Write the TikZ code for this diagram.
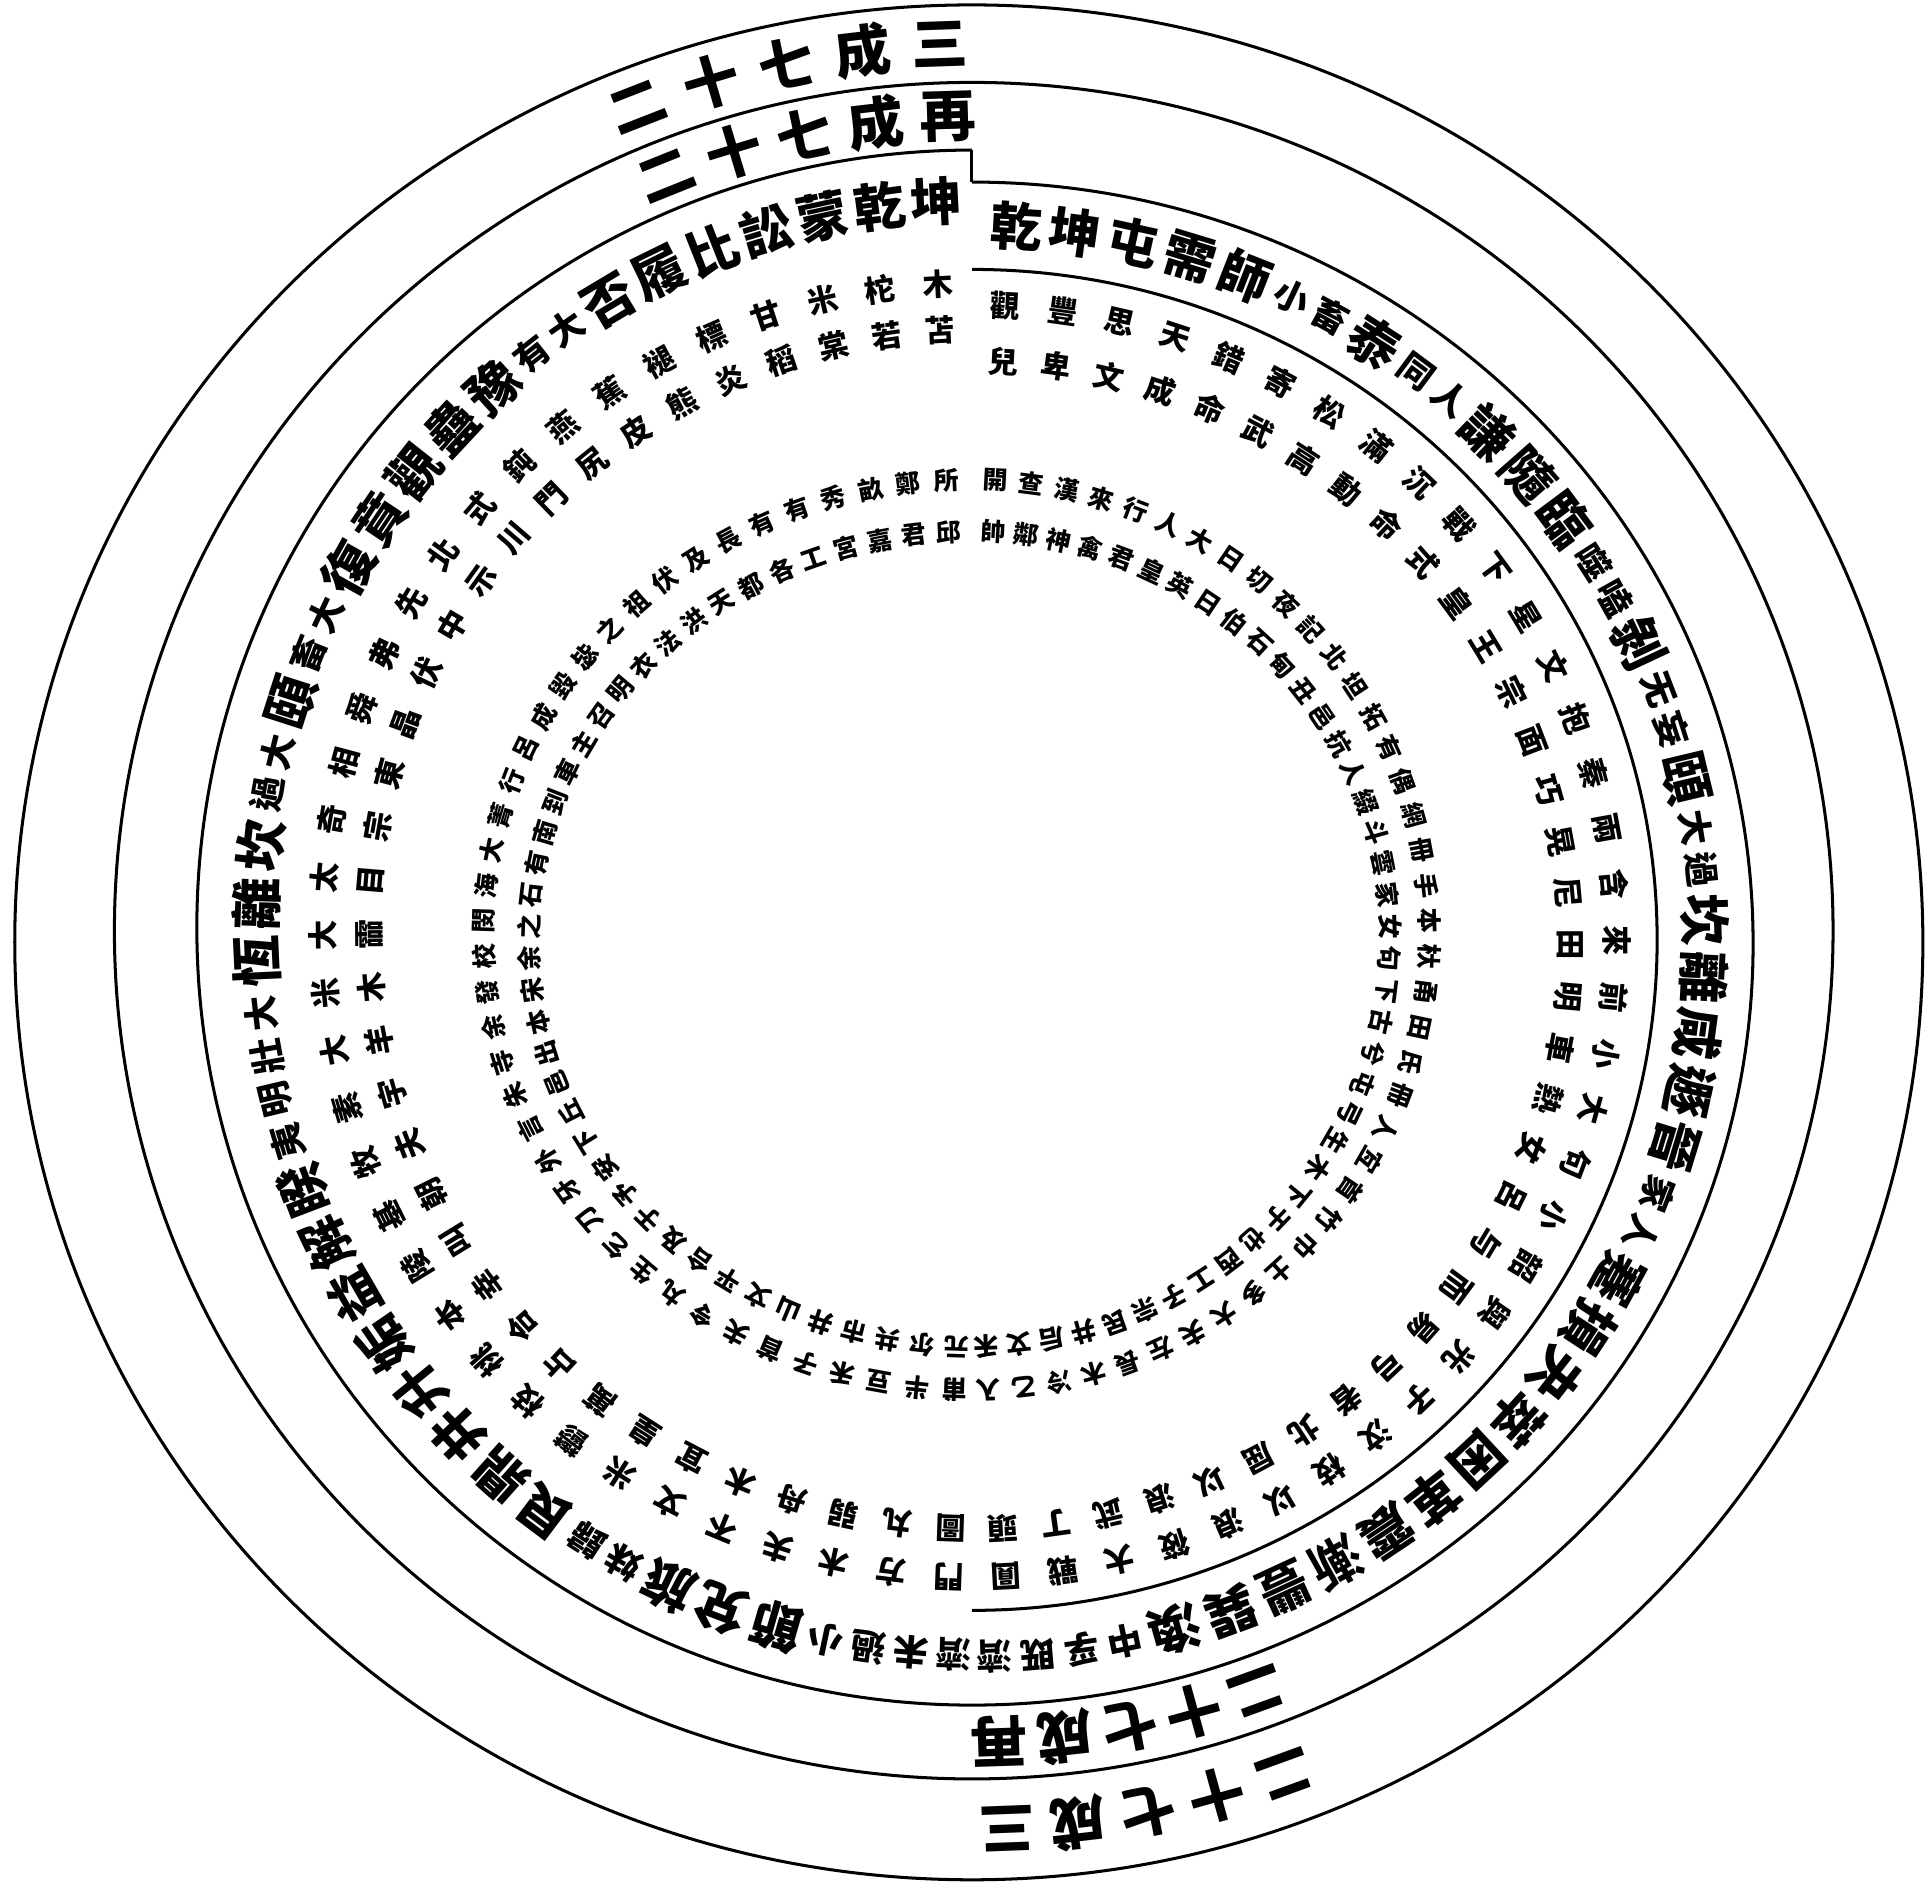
\documentclass[tikz,border=0pt]{standalone}
\usepackage{fontspec}
\newfontfamily\cjk{Noto Sans CJK TC}
\newcommand\rkput[6]{%
  \node[inner sep=0pt, rotate=#3, font=\cjk\bfseries\fontsize{#4pt}{#4pt}\selectfont] (#6) at (#1,#2) {#5};}
\ExplSyntaxOn
\fp_new:N \l_rk_t_fp
\fp_new:N \l_rk_tot_fp
\fp_new:N \l_rk_step_fp
\fp_new:N \l_rk_pw_fp
\fp_new:N \l_rk_w_fp
\int_new:N \g_rk_node_int
\bool_new:N \l_rk_first_bool
\cs_new_protected:Npn \rk_put:nnnnnnn #1#2#3#4#5#6#7
  {
    \int_gincr:N \g_rk_node_int
    \use:e
      {
        \exp_not:N \rkput
          { \fp_eval:n { round(#1 + #3 * cosd(#5), 4) } }
          { \fp_eval:n { round(#2 + #4 * sind(#5), 4) } }
          { \fp_eval:n { round(atand(#3 * sind(#5), #4 * cosd(#5)) - 90, 3) } }
          { \fp_eval:n { round(#6, 2) } }
          { \exp_not:n {#7} }
          { c \int_use:N \g_rk_node_int }
      }
  }
\NewDocumentCommand \arctext { m m m m m m m m }
  {
    \fp_zero:N \l_rk_tot_fp
    \tl_map_inline:nn {#8}
      {
        \int_compare:nNnTF { \tl_count:n {##1} } > { 1 }
          { \fp_add:Nn \l_rk_tot_fp { 1.5 } }
          { \fp_add:Nn \l_rk_tot_fp { 1 } }
      }
    \fp_set:Nn \l_rk_step_fp { (#6 - (#5)) / (\l_rk_tot_fp - 1) }
    \fp_set:Nn \l_rk_t_fp { #5 }
    \bool_set_true:N \l_rk_first_bool
    \tl_map_inline:nn {#8}
      {
        \int_compare:nNnTF { \tl_count:n {##1} } > { 1 }
          { \fp_set:Nn \l_rk_w_fp { 1.5 } }
          { \fp_set:Nn \l_rk_w_fp { 1 } }
        \bool_if:NTF \l_rk_first_bool
          { \bool_set_false:N \l_rk_first_bool }
          { \fp_add:Nn \l_rk_t_fp { \l_rk_step_fp * (\l_rk_pw_fp + \l_rk_w_fp) / 2 } }
        \fp_set_eq:NN \l_rk_pw_fp \l_rk_w_fp
        \int_compare:nNnTF { \tl_count:n {##1} } > { 1 }
          {
            \rk_put:nnnnnnn {#1}{#2}{#3}{#4} { \l_rk_t_fp - 0.37 * \l_rk_step_fp } { #7 * 0.68 } { \tl_item:nn {##1} {1} }
            \rk_put:nnnnnnn {#1}{#2}{#3}{#4} { \l_rk_t_fp + 0.37 * \l_rk_step_fp } { #7 * 0.68 } { \tl_item:nn {##1} {2} }
          }
          {
            \tl_if_eq:nnF {##1} {*}
              { \rk_put:nnnnnnn {#1}{#2}{#3}{#4} { \l_rk_t_fp } {#7} {##1} }
          }
      }
  }
\ExplSyntaxOff
\tikzset{ring/.style={line width=0.7pt, black}}
\begin{document}
\begin{tikzpicture}
\useasboundingbox (0,0) rectangle (15.68,15.35);
\fill[white] (0,0) rectangle (15.68,15.35);
% ---- ring lines ----
\draw[ring] (7.9,15.31) coordinate (tA) arc[start angle=90,end angle=-90,x radius=7.73,y radius=7.62] coordinate (bA);
\draw[ring] (tA) arc[start angle=90,end angle=270,x radius=7.78,y radius=7.62];
\draw[ring] (7.9,14.68) coordinate (tB) arc[start angle=90,end angle=-90,x radius=7.00,y radius=6.895] coordinate (bB);
\draw[ring] (tB) arc[start angle=90,end angle=270,x radius=6.97,y radius=6.895];
\draw[ring] (7.9,13.87) coordinate (tC) arc[start angle=90,end angle=-90,x radius=6.35,y radius=6.19] coordinate (bC);
\draw[ring] (7.9,14.13) coordinate (tL) arc[start angle=90,end angle=270,x radius=6.30,y radius=6.32];
\draw[ring] (tL) -- (tC);
\draw[ring] (7.9,13.16) coordinate (tD) arc[start angle=90,end angle=-90,x radius=5.57,y radius=5.45] coordinate (bD);
% ---- outer labels ----
\arctext{7.9}{7.73}{7.38}{7.26}{92}{111.6}{13}{三成七十二}
\arctext{7.9}{7.80}{6.63}{6.60}{91.7}{112}{13}{再成七十二}
\arctext{7.9}{7.74}{7.37}{7.26}{-87.8}{-69.8}{13}{三成七十二}
\arctext{7.9}{7.73}{6.67}{6.54}{-88.1}{-69.7}{13}{再成七十二}
% ---- hexagram ring ----
\arctext{7.9}{7.70}{5.96}{5.82}{86.5}{-87.7}{12}{乾坤屯需師{小畜}泰{同人}謙隨臨{噬嗑}剝{无妄}頤{大過}坎離咸遯晉{家人}蹇損夬萃困革震漸豐巽渙{中孚}{既濟}}
\arctext{7.9}{7.81}{5.82}{5.91}{92.8}{268}{12}{坤乾蒙訟比履否{大有}豫蠱觀賁復{大畜}頤{大過}坎離恆{大壯}{明夷}睽解益姤升井鼎艮{歸妹}旅兌節{小過}{未濟}}
% ---- annotation ring ----
\arctext{7.9}{7.70}{5.24}{5.17}{87}{-87}{7}{觀豐思天錯寄松滿沉戰下星文抱秦兩含來前小大句小韶與光子汶枝以浪筱大戰圓}
\arctext{7.9}{7.67}{4.86}{4.75}{87}{-87}{7}{兒卑文成命武高動命式皇王宗面巧晃尼田明車熱女呂与而易弓者北屈以浪武丁頭}
\arctext{7.9}{7.79}{5.28}{5.26}{93}{268}{7}{木柁米甘標褪蕉燕鈍式北先弗舜相奇太大米大素牧基陵本桃枝鬱米文不夫木方門}
\arctext{7.9}{7.80}{4.90}{4.87}{93}{268}{7}{苫若棠稻炎熊皮尻門川示中伏晶東宗目霝木羊宇夫朝叫幸合占萬皇宜木舟弱丸圖}
% ---- inner ring ----
\arctext{7.9}{7.75}{3.72}{3.70}{87}{-88}{5.8}{開查漢來行人大日切夜記北坦拓有偶網冊手本杕甬田氏冊人宐首竹巾土多大夫左長木冷乙入}
\arctext{7.9}{7.715}{3.40}{3.315}{87}{-88}{5.8}{帥鄰神禽君皇英日伯石甸丑邑抗人綴斗雲家女句下古兮屯弓生木下于也西工子宗民井后文禾}
\arctext{7.9}{7.75}{3.97}{3.70}{93}{268}{5.8}{所鄭畝秀有有長及伏祖之毖毀成呂行菁大海閔校發余寺朱言外牙刀乞生丸令夫首子禾豆半甫}
\arctext{7.9}{7.715}{3.60}{3.315}{93}{268}{5.8}{邱君嘉宮工各都天洪法衣明召主車到南有石之余宋本出邑丘下安予于及合平文山井市共尔元}
\end{tikzpicture}
\end{document}
